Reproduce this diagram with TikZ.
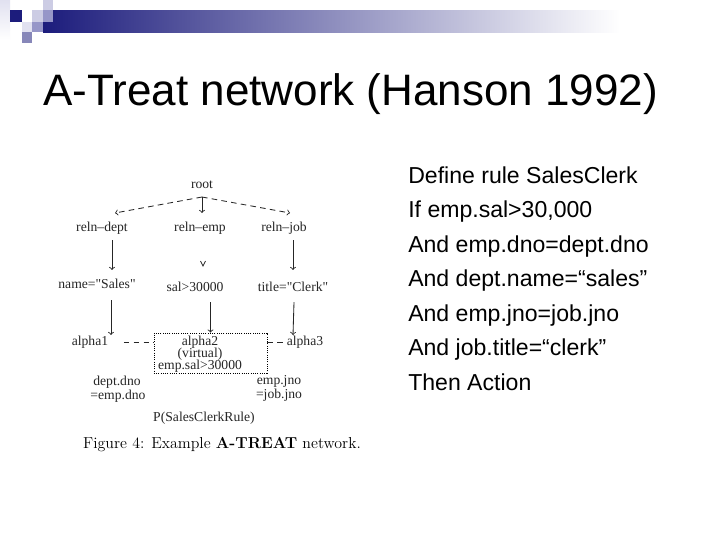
\documentclass[tikz,border=0pt]{standalone}
\usepackage{fontspec}
\usepackage{tikz}
\usetikzlibrary{arrows,calc}
\newfontfamily\slidefont{Liberation Sans}
\newfontfamily\figfont{Liberation Serif}
\definecolor{navyA}{RGB}{28,28,124}
\definecolor{lavL}{RGB}{204,204,228}
\definecolor{lavM}{RGB}{150,150,200}
\definecolor{lavP}{RGB}{225,225,240}
\definecolor{lavD}{RGB}{135,135,185}

\begin{document}
\begin{tikzpicture}[x=0.025cm,y=-0.025cm,
    fig/.style={inner sep=1pt, text height=7pt, text depth=2pt, text=black!85,
      font=\figfont\fontsize{9.7}{11}\selectfont},
    conn/.style={black!85, line width=0.6pt},
    dashconn/.style={conn, dash pattern=on 4pt off 3pt}]
            \fill[white] (0,0) rectangle (720,540);

            % header bar and squares
            \shade[left color=navyA, right color=white] (43,10) rectangle (620,32);
            \shade[top color=lavP, bottom color=white] (0,0) rectangle (10,40);
            \fill[navyA] (10,10) rectangle (22,22);
            \fill[lavL] (32,10) rectangle (43,22);
            \fill[lavL] (43,0) rectangle (53,10);
            \fill[lavM] (43,10) rectangle (53,22);
            \fill[lavP] (22,22) rectangle (32,32);
            \fill[lavM] (32,22) rectangle (43,32);
            \fill[lavD] (22,32) rectangle (32,43);

            \node[anchor=base west, inner sep=0] (title) at (43,105)
                {\slidefont\fontsize{31.3}{36}\selectfont A-Treat network (Hanson 1992)};

            % rule text
            \foreach \txt [count=\i] in {Define rule SalesClerk, {If emp.sal>30,000},
                And emp.dno=dept.dno, And dept.name=“sales”, And emp.jno=job.jno,
                And job.title=“clerk”, Then Action}
                \node[anchor=base west, inner sep=0] (rule\i) at (408,{183+(\i-1)*34.5})
                    {\slidefont\fontsize{16.4}{20}\selectfont \txt};

            % network
            \node[fig] (root) at (202,185) {root};
            \node[fig] (rdept) at (102,228) {reln–dept};
            \node[fig] (remp) at (200,228) {reln–emp};
            \node[fig] (rjob) at (284,228) {reln–job};
            \node[fig] (sales) at (97,285) {name="Sales"};
            \node[fig] (sal) at (195,288) {sal>30000};
            \node[fig] (ctitle) at (293,288) {title="Clerk"};
            \node[fig] (alpha1) at (90,342) {alpha1};
            \node[fig] (alpha3) at (305,342) {alpha3};
            \node[draw, densely dotted, line width=0.6pt, minimum width=2.825cm, minimum height=1cm]
                (alphabox) at (210.5,353) {};
            \node[fig] (alpha2) at (200,342) {alpha2};
            \node[fig] (virt) at (200,354) {(virtual)};
            \node[fig] (empsal) at (200,366) {emp.sal>30000};
            \node[fig] (dno1) at (117,382) {dept.dno};
            \node[fig] (dno2) at (118,396) {=emp.dno};
            \node[fig] (jno1) at (279,381) {emp.jno};
            \node[fig] (jno2) at (279,395) {=job.jno};
            \node[fig] (prod) at (204,418) {P(SalesClerkRule)};
            \node (caption) at (222,445)
                {\fontsize{11.3}{13}\selectfont Figure 4: Example \textbf{A-TREAT} network.};

            \coordinate (fork) at (202,197);
            \draw[dashconn,->] (fork) -- ($(rdept.north)+(13,-7)$);
            \draw[dashconn,->] (fork) -- ($(rjob.north)+(6,-7)$);
            \draw[conn,->] (fork) -- ($(remp.north)+(2,-7)$);

            \draw[conn,->] ($(rdept.south)+(10,4)$) -- ($(sales.north)+(15,-7)$);
            \draw[conn,->] ($(rjob.south)+(9,4)$) -- ($(ctitle.north)+(0,-10)$);
            \coordinate (vmark) at (203,266);
            \draw[conn] ($(vmark)+(-2.5,-5)$) -- (vmark) -- ($(vmark)+(2.5,-5)$);

            \draw[conn,->] ($(sales.south)+(14,7)$) -- ($(alpha1.north)+(21,1)$);
            \draw[conn,->] ($(sal.south -| alphabox.north)+(0,6)$) -- (alphabox.north);
            \draw[conn,->] ($(ctitle.south)+(1,6)$) -- ($(alpha3.north)+(-12,1)$);

            \draw[dashconn] ($(alpha1.east)+(14,0)$) -- (alphabox.west |- alpha1);
            \draw[dashconn] (alphabox.east |- alpha3) -- (alpha3.west);
\end{tikzpicture}
\end{document}
